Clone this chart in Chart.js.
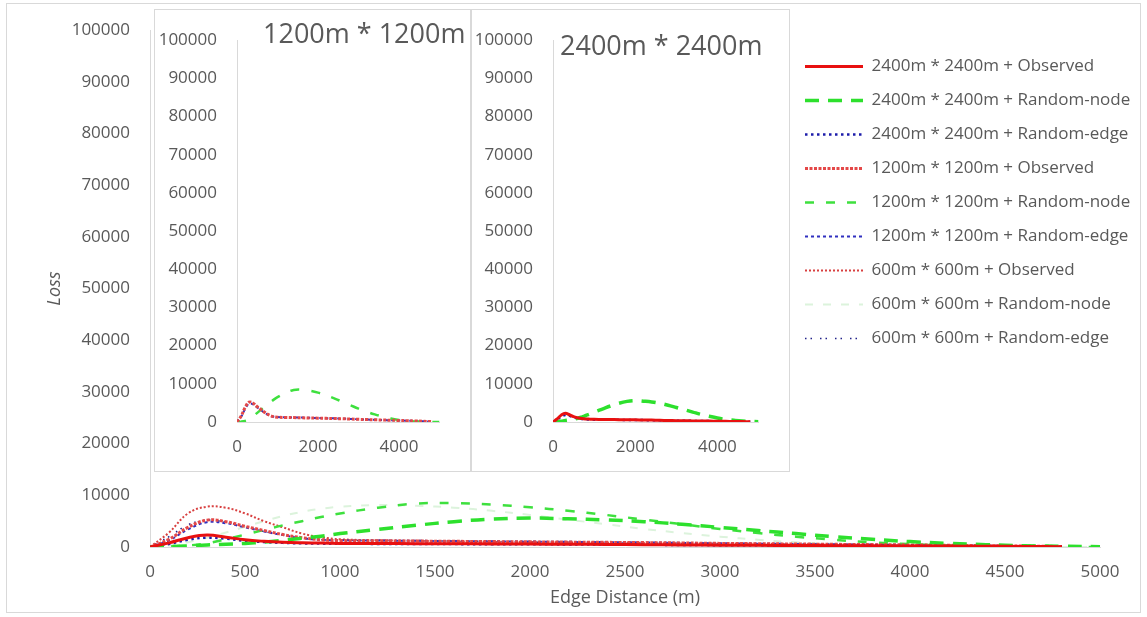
<!DOCTYPE html>
<html lang="en">
<head>
  <meta charset="UTF-8" />
  <title>Loss vs Edge Distance</title>
  <script src="https://cdn.jsdelivr.net/npm/chart.js"></script>
  <style>
    body { margin: 0; background: #fff; font-family: 'Open Sans', sans-serif; }
    .wrap { position: relative; width: 1147px; height: 617px; overflow: hidden; background: #fff; }
    .frame {
      position: absolute; left: 6px; top: 3px; width: 1133px; height: 608px;
      border: 1px solid #d9d9d9; pointer-events: none;
    }
    #mainChart { position: absolute; left: 0; top: 0; }
    .inset {
      position: absolute; top: 9px; height: 461px;
      background: #fff; border: 1px solid #d9d9d9;
    }
    #inset1 { left: 154px; width: 315px; }
    #inset2 { left: 471px; width: 317px; }
    .inset canvas { position: absolute; left: 0; top: 0; }
    .inset-title {
      position: absolute; font-size: 27px; line-height: 27px;
      color: #595959; white-space: nowrap;
    }
    #legendChart { position: absolute; left: 788px; top: 41px; }
  </style>
</head>
<body>
  <div class="wrap">
    <canvas id="mainChart" width="1147" height="617"></canvas>

    <div class="inset" id="inset1">
      <canvas id="chart1200" width="315" height="461"></canvas>
      <div class="inset-title" style="left:108px; top:9px;">1200m * 1200m</div>
    </div>

    <div class="inset" id="inset2">
      <canvas id="chart2400" width="317" height="461"></canvas>
      <div class="inset-title" style="left:88px; top:21px;">2400m * 2400m</div>
    </div>

    <canvas id="legendChart" width="345" height="360"></canvas>
    <div class="frame"></div>
  </div>

  <script>
    // distance samples (m)
    const distances = [0, 100, 200, 300, 400, 500, 600, 700, 800, 900, 1000, 1200, 1400, 1600, 1800, 2000,
      2200, 2400, 2600, 2800, 3000, 3200, 3400, 3600, 3800, 4000, 4200, 4400, 4600, 4800, 5000];

    // loss values
    const obs2400  = [0, 800, 1800, 2300, 1900, 1400, 1100, 900, 800, 750, 700, 680, 650, 620, 590, 560,
      530, 500, 450, 400, 350, 320, 290, 260, 230, 200, 170, 140, 100, 50, null];
    const node2400 = [0, 50, 200, 400, 550, 700, 950, 1300, 1700, 2100, 2600, 3400, 4200, 4900, 5400, 5600,
      5450, 5250, 4900, 4400, 3800, 3200, 2600, 2000, 1500, 1050, 700, 450, 250, 150, 50];
    const edge2400 = [0, 600, 1400, 1800, 1600, 1200, 950, 800, 700, 650, 620, 600, 580, 560, 540, 520,
      500, 470, 430, 390, 350, 320, 290, 260, 230, 200, 170, 140, 100, 50, null];
    const obs1200  = [0, 1500, 3800, 5200, 4900, 4000, 3200, 2400, 1800, 1400, 1250, 1200, 1150, 1100, 1050, 1000,
      950, 900, 850, 780, 700, 640, 580, 520, 460, 400, 340, 270, 190, 100, null];
    const node1200 = [0, 100, 300, 700, 1500, 2400, 3300, 4200, 5000, 5800, 6500, 7600, 8400, 8500, 8200, 7700,
      7000, 6200, 5300, 4400, 3500, 2700, 2000, 1400, 900, 550, 300, 150, 80, 30, 10];
    const edge1200 = [0, 1300, 3400, 4800, 4600, 3800, 3000, 2300, 1700, 1400, 1300, 1250, 1200, 1150, 1100, 1050,
      1000, 950, 880, 800, 720, 650, 580, 520, 460, 400, 340, 270, 190, 100, null];
    const obs600   = [0, 2800, 6500, 7800, 7600, 6500, 5000, 3800, 2600, 1900, 1500, 1300, 1200, 1100, 1000, 950,
      900, 850, 780, 720, 660, 600, 540, 480, 420, 360, 300, 240, 170, 90, null];
    const node600  = [0, 300, 900, 1800, 2800, 3900, 5000, 6000, 6800, 7400, 7800, 8100, 8000, 7600, 7000, 6200,
      5300, 4400, 3500, 2700, 2000, 1400, 900, 600, 350, 200, 100, 50, 20, 10, 0];
    const edge600  = [0, 2000, 4300, 5200, 4800, 3900, 3000, 2300, 1700, 1400, 1300, 1250, 1200, 1150, 1050, 950,
      900, 820, 760, 700, 640, 580, 520, 460, 400, 340, 280, 220, 150, 80, null];

    const seriesLabels = [
      '2400m * 2400m + Observed', '2400m * 2400m + Random-node', '2400m * 2400m + Random-edge',
      '1200m * 1200m + Observed', '1200m * 1200m + Random-node', '1200m * 1200m + Random-edge',
      '600m * 600m + Observed', '600m * 600m + Random-node', '600m * 600m + Random-edge'
    ];
    const seriesValues = [obs2400, node2400, edge2400, obs1200, node1200, edge1200, obs600, node600, edge600];

    // axis ticks
    const mainXTicks = [0, 500, 1000, 1500, 2000, 2500, 3000, 3500, 4000, 4500, 5000];
    const insetXTicks = [0, 2000, 4000];
    const yTickValues = [0, 10000, 20000, 30000, 40000, 50000, 60000, 70000, 80000, 90000, 100000];

    // line looks, same order as the labels
    const seriesStyles = [
      { color: '#e81010', width: 3,   dash: [] },
      { color: '#2de02d', width: 3.5, dash: [14, 9] },
      { color: '#1c1caa', width: 2.5, dash: [2.5, 3.5] },
      { color: '#e44848', width: 3,   dash: [3, 1.5] },
      { color: '#3ee03e', width: 2.5, dash: [9, 12] },
      { color: '#3030c0', width: 2,   dash: [3, 3] },
      { color: '#d84040', width: 2,   dash: [2, 2] },
      { color: '#dcf3dc', width: 2,   dash: [8, 10] },
      { color: '#22228a', width: 1.5, dash: [1.5, 4, 1.5, 8] }
    ];

    const textColor = '#595959';
    const axisColor = '#d9d9d9';
    Chart.defaults.font.family = "'Open Sans', sans-serif";
    Chart.defaults.font.size = 17;
    Chart.defaults.color = textColor;

    function makeDataset(i) {
      const s = seriesStyles[i];
      return {
        label: seriesLabels[i],
        data: distances.map((d, k) => ({ x: d, y: seriesValues[i][k] })),
        borderColor: s.color,
        backgroundColor: s.color,
        borderWidth: s.width,
        borderDash: s.dash,
        pointRadius: 0,
        tension: 0.4,
        fill: false
      };
    }

    const fixedTicks = values => scale => { scale.ticks = values.map(v => ({ value: v })); };
    const plain = v => String(v);

    function xScale(values, labelPad, height, title) {
      return {
        type: 'linear', min: 0, max: 5000,
        afterBuildTicks: fixedTicks(values),
        ticks: { padding: labelPad, maxRotation: 0, autoSkip: false, callback: plain },
        grid: { display: false, drawTicks: false },
        border: { display: true, color: axisColor, width: 1 },
        title: title || { display: false },
        afterFit: s => { s.height = height; }
      };
    }

    function yScale(width, title) {
      return {
        min: 0, max: 100000,
        afterBuildTicks: fixedTicks(yTickValues),
        ticks: { padding: 20, autoSkip: false, callback: plain },
        grid: { display: false, drawTicks: false },
        border: { display: true, color: axisColor, width: 1 },
        title: title || { display: false },
        afterFit: s => { s.width = width; }
      };
    }

    // main chart, all nine series
    new Chart(document.getElementById('mainChart'), {
      type: 'line',
      data: { datasets: seriesValues.map((v, i) => makeDataset(i)) },
      options: {
        responsive: false,
        animation: false,
        layout: { padding: { left: 0, top: 23, right: 47, bottom: 0 } },
        plugins: { legend: { display: false }, tooltip: { enabled: false } },
        scales: {
          x: xScale(mainXTicks, 15, 70, {
            display: true, text: 'Edge Distance (m)', color: textColor,
            font: { size: 18 }, padding: { top: 0, bottom: 8 }
          }),
          y: yScale(150, {
            display: true, text: 'Loss', color: textColor,
            font: { size: 18, style: 'italic' }, padding: { top: 44, bottom: 0 }
          })
        }
      }
    });

    // small panels
    function insetChart(id, which, yWidth, rightPad) {
      new Chart(document.getElementById(id), {
        type: 'line',
        data: { datasets: which.map(i => makeDataset(i)) },
        options: {
          responsive: false,
          animation: false,
          layout: { padding: { left: 0, top: 14, right: rightPad, bottom: 0 } },
          plugins: { legend: { display: false }, tooltip: { enabled: false } },
          scales: {
            x: xScale(insetXTicks, 15, 49),
            y: yScale(yWidth)
          }
        }
      });
    }
    insetChart('chart1200', [3, 4, 5], 82, 30.5);
    insetChart('chart2400', [0, 1, 2], 81, 30.5);

    // legend on its own canvas so it can float over the plot
    new Chart(document.getElementById('legendChart'), {
      type: 'line',
      data: {
        datasets: seriesLabels.map((label, i) => ({
          label: label, data: [],
          borderColor: seriesStyles[i].color,
          borderWidth: seriesStyles[i].width,
          borderDash: seriesStyles[i].dash
        }))
      },
      options: {
        responsive: false,
        animation: false,
        scales: { x: { display: false }, y: { display: false } },
        plugins: {
          tooltip: { enabled: false },
          legend: {
            position: 'top', align: 'start', maxHeight: 400,
            labels: {
              usePointStyle: true, pointStyle: 'line', pointStyleWidth: 58,
              padding: 17, color: textColor, font: { size: 17 },
              generateLabels: chart => chart.data.datasets.map((ds, i) => ({
                text: ds.label,
                fillStyle: ds.borderColor,
                strokeStyle: ds.borderColor,
                lineWidth: ds.borderWidth,
                lineDash: ds.borderDash,
                pointStyle: 'line',
                fontColor: textColor,
                hidden: false,
                datasetIndex: i
              }))
            }
          }
        }
      }
    });
  </script>
</body>
</html>
